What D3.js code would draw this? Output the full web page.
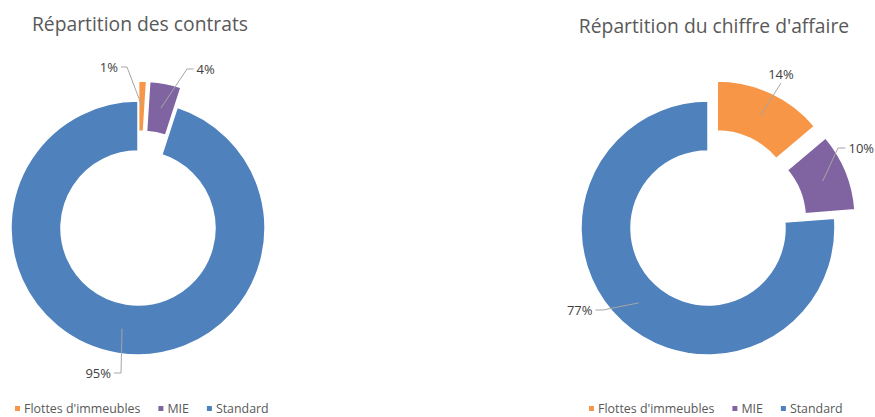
<!DOCTYPE html>
<html>
<head>
<meta charset="utf-8">
<script src="https://cdn.jsdelivr.net/npm/d3@7"></script>
<style>
  body { margin: 0; background: #fff; }
  svg { display: block; font-family: "Open Sans", sans-serif; }
</style>
</head>
<body>
<div id="chart"></div>
<script>
// Data
const categories = ["Flottes d'immeubles", "MIE", "Standard"];
const contratsValues = [1, 4, 95];
const chiffreValues = [14, 10, 77];
const titles = ["Répartition des contrats", "Répartition du chiffre d'affaire"];
const colors = ["#F79646", "#8064A2", "#4F81BD"];

// Layout of the two donuts (explode offset per slice, label elbows relative to center)
const layouts = [
    {
        cx: 138, cy: 228, titleX: 140, titleY: 31, legendX: 15, legendY: 409,
        explode: [20, 20, 0],
        labels: [
            {ex: -11, ey: -161, tail: -6},
            {ex: 49, ey: -159, tail: 6.5},
            {ex: -17, ey: 145, tail: -7}
        ]
    },
    {
        cx: 708, cy: 228, titleX: 714, titleY: 33, legendX: 589, legendY: 409,
        explode: [22, 22, 0],
        labels: [
            {ex: 73, ey: -145, tail: 0},
            {ex: 130, ey: -80, tail: 7.5},
            {ex: -105, ey: 82, tail: -7.5}
        ]
    }
];

const width = 875, height = 417;
const outerR = 127, innerR = 77;

const svg = d3.select("#chart")
    .append("svg")
    .attr("width", width)
    .attr("height", height);

const pie = d3.pie().sort(null).value(d => d);
const arc = d3.arc().innerRadius(innerR).outerRadius(outerR);
const midArc = d3.arc().innerRadius((innerR + outerR) / 2).outerRadius((innerR + outerR) / 2);

[contratsValues, chiffreValues].forEach((values, k) => {
    const lay = layouts[k];
    const g = svg.append("g")
        .attr("transform", `translate(${lay.cx},${lay.cy})`);

    const arcs = pie(values);

    // Slices
    arcs.forEach((a, i) => {
        const mid = (a.startAngle + a.endAngle) / 2;
        const dx = Math.sin(mid) * lay.explode[i];
        const dy = -Math.cos(mid) * lay.explode[i];
        g.append("path")
            .attr("d", arc(a))
            .attr("transform", `translate(${dx},${dy})`)
            .attr("fill", colors[i])
            .attr("stroke", "#fff")
            .attr("stroke-width", 1.5);
    });

    // Labels with leader lines
    arcs.forEach((a, i) => {
        const mid = (a.startAngle + a.endAngle) / 2;
        const dx = Math.sin(mid) * lay.explode[i];
        const dy = -Math.cos(mid) * lay.explode[i];
        const c = midArc.centroid(a);
        const start = [c[0] + dx, c[1] + dy];
        const lb = lay.labels[i];
        const elbow = [lb.ex, lb.ey];
        const end = [lb.ex + lb.tail, lb.ey];

        g.append("path")
            .attr("d", d3.line()([start, elbow, end]))
            .attr("fill", "none")
            .attr("stroke", "#a6a6a6")
            .attr("stroke-width", 1);

        const t = g.append("text")
            .attr("fill", "#404040")
            .style("font-size", "13px")
            .text(values[i] + "%");
        if (lb.tail === 0) {
            t.attr("x", end[0]).attr("y", end[1] - 4).attr("text-anchor", "middle");
        } else {
            t.attr("x", end[0] + (lb.tail > 0 ? 3 : -3))
                .attr("y", end[1])
                .attr("dy", "0.35em")
                .attr("text-anchor", lb.tail > 0 ? "start" : "end");
        }
    });

    // Title
    svg.append("text")
        .attr("x", lay.titleX)
        .attr("y", lay.titleY)
        .attr("text-anchor", "middle")
        .attr("fill", "#595959")
        .style("font-size", "19.3px")
        .text(titles[k]);

    // Legend
    const legend = svg.append("g")
        .attr("transform", `translate(${lay.legendX},${lay.legendY})`);
    let x = 0;
    categories.forEach((cat, i) => {
        legend.append("rect")
            .attr("x", x)
            .attr("y", -3)
            .attr("width", 5)
            .attr("height", 5)
            .attr("fill", colors[i]);
        const txt = legend.append("text")
            .attr("x", x + 9)
            .attr("y", 0)
            .attr("dy", "0.35em")
            .attr("fill", "#595959")
            .style("font-size", "12.4px")
            .text(cat);
        x += 9 + txt.node().getComputedTextLength() + 18;
    });
});
</script>
</body>
</html>
